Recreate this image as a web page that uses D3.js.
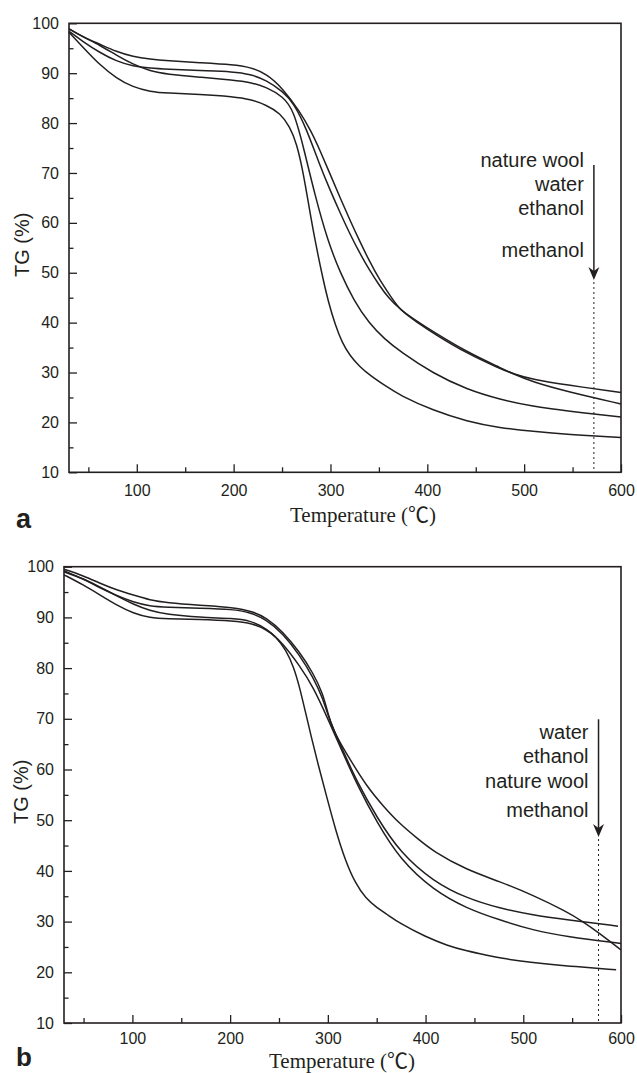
<!DOCTYPE html>
<html><head><meta charset="utf-8">
<script src="https://cdn.jsdelivr.net/npm/d3@7/dist/d3.min.js"></script>
<style>body{margin:0;background:#fff}</style>
</head><body>
<svg id="c" width="637" height="1073"></svg>
<script>
// ---------- data ----------
const xDomain = [30, 600];
const yDomain = [10, 100];
const xTicks = [100, 200, 300, 400, 500, 600];
const xMinor = [50, 150, 250, 350, 450, 550];
const yTicks = [10, 20, 30, 40, 50, 60, 70, 80, 90, 100];
const yMinor = [15, 25, 35, 45, 55, 65, 75, 85, 95];
const xTitle = "Temperature (℃)";
const yTitle = "TG (%)";

// panel a  (temperature °C, TG %)
const aNatureWool = [[30,98.9],[44,97.3],[62,95.8],[79,94.3],[96,93.3],[114,92.8],[131,92.5],[165,92.1],[200,91.7],[217,91.2],[234,89.9],[251,86.9],[268,82.4],[280,78.4],[289,74.6],[300,69.6],[310,65.0],[320,60.6],[330,56.4],[340,52.4],[350,48.8],[363,45.0],[372,42.5],[390,40.0],[406,37.9],[441,33.8],[475,30.8],[489,29.7],[509,28.6],[544,27.5],[600,26.0]];
const aWater = [[30,98.4],[44,96.4],[62,94.1],[79,92.4],[96,91.4],[114,91.0],[131,90.8],[165,90.5],[200,90.3],[217,89.8],[234,88.6],[251,86.3],[262,84.0],[275,79.0],[289,71.5],[300,66.4],[310,62.0],[320,57.8],[330,54.0],[340,50.6],[350,47.6],[360,44.9],[372,42.6],[390,40.2],[406,38.2],[441,34.1],[475,31.0],[489,29.7],[509,28.1],[544,26.2],[600,23.7]];
const aEthanol = [[30,98.9],[44,97.3],[62,95.6],[79,93.6],[96,91.8],[114,90.4],[131,89.8],[165,89.2],[200,88.6],[217,88.2],[234,87.2],[251,85.3],[262,82.6],[273,74.5],[284,65.5],[297,56.5],[310,50.0],[324,44.5],[340,39.8],[356,36.7],[372,34.2],[406,29.8],[441,26.6],[475,24.6],[509,23.2],[544,22.3],[600,21.1]];
const aMethanol = [[30,98.2],[44,95.3],[62,91.6],[79,89.0],[96,87.2],[114,86.3],[131,86.0],[165,85.8],[200,85.3],[217,84.8],[234,83.6],[248,82.0],[258,79.3],[265,76.0],[272,70.0],[278,63.0],[285,55.5],[292,49.0],[298,44.0],[305,39.5],[312,36.0],[320,33.4],[330,31.2],[341,29.4],[356,27.4],[372,25.4],[406,22.4],[441,20.2],[475,18.9],[509,18.2],[545,17.6],[600,17.0]];

// panel b
const bWater = [[30,99.5],[50,98.2],[67,96.7],[84,95.4],[101,94.4],[118,93.4],[135,92.9],[169,92.4],[203,92.0],[224,91.1],[237,89.9],[254,87.2],[271,83.2],[285,79.0],[295,75.0],[300,71.0],[306,67.6],[315,64.5],[323,61.9],[340,56.6],[357,52.7],[374,49.2],[391,46.5],[408,43.8],[442,40.2],[476,37.9],[510,35.2],[544,32.0],[561,30.0],[578,27.7],[600,24.4]];
const bEthanol = [[30,99.2],[50,97.6],[67,95.8],[84,94.3],[101,93.0],[118,92.2],[135,92.0],[169,91.8],[203,91.6],[220,91.0],[237,89.6],[254,86.8],[271,82.6],[285,78.2],[295,74.0],[301,70.0],[316,63.5],[330,57.5],[350,50.6],[374,43.6],[408,37.9],[442,34.6],[476,32.6],[510,31.3],[544,30.4],[597,29.1]];
const bNatureWool = [[30,99.0],[50,97.6],[67,96.0],[84,94.2],[101,92.6],[118,91.3],[135,90.6],[169,90.0],[203,89.8],[220,89.4],[237,87.9],[254,84.9],[271,80.5],[285,76.3],[300,70.0],[316,63.0],[330,57.0],[350,49.6],[374,42.2],[408,36.2],[442,32.6],[476,30.3],[510,28.3],[544,27.0],[600,25.7]];
const bMethanol = [[30,98.4],[50,96.4],[67,94.4],[84,92.4],[101,90.8],[118,89.9],[135,89.7],[169,89.6],[203,89.3],[223,88.8],[237,87.6],[247,86.2],[257,83.6],[265,80.3],[271,76.3],[277,71.4],[283,66.5],[290,61.0],[299,54.5],[308,48.0],[318,42.0],[328,37.6],[339,34.5],[350,32.8],[360,31.5],[374,29.6],[400,27.0],[422,25.3],[442,24.2],[464,23.3],[476,22.8],[506,22.0],[547,21.2],[595,20.5]];

const legendA = ["nature wool", "water", "ethanol", "methanol"];
const legendB = ["water", "ethanol", "nature wool", "methanol"];
const arrowTA = 572, arrowTB = 577;

// ---------- drawing ----------
const ink = "#231f20";
const svg = d3.select("#c");

const panels = [
  {label:"a", left:69, right:621, top:23.3, bottom:472.3, series:[aNatureWool,aWater,aEthanol,aMethanol],
   legend:legendA, arrowT:arrowTA, arrowTop:165, arrowTip:280, legendOffsets:[1.7,26,50,92.3],
   titleX:363, titleY:522, yTitleX:22, labelY:528, labelSize:27, pad:12},
  {label:"b", left:64, right:621, top:566.7, bottom:1023, series:[bWater,bEthanol,bNatureWool,bMethanol],
   legend:legendB, arrowT:arrowTB, arrowTop:719.3, arrowTip:837, legendOffsets:[19.7,44,69,98],
   titleX:342, titleY:1067.5, yTitleX:21, labelY:1066, labelSize:26, pad:10}
];

panels.forEach(p => {
  const x = d3.scaleLinear().domain(xDomain).range([p.left, p.right]);
  const y = d3.scaleLinear().domain(yDomain).range([p.bottom, p.top]);
  const g = svg.append("g");

  // minor ticks
  g.append("g").attr("transform",`translate(0,${p.bottom})`)
    .call(d3.axisBottom(x).tickValues(xMinor).tickSize(-5).tickFormat(""))
    .call(s=>{s.select(".domain").remove(); s.selectAll("line").attr("stroke",ink).attr("stroke-width",1.3);});
  g.append("g").attr("transform",`translate(${p.left},0)`)
    .call(d3.axisLeft(y).tickValues(yMinor).tickSize(-4.5).tickFormat(""))
    .call(s=>{s.select(".domain").remove(); s.selectAll("line").attr("stroke",ink).attr("stroke-width",1.3);});

  // major ticks
  g.append("g").attr("transform",`translate(0,${p.bottom})`)
    .call(d3.axisBottom(x).tickValues(xTicks).tickSize(-8).tickPadding(p.pad))
    .call(s=>{s.select(".domain").remove(); s.selectAll("line").attr("stroke",ink).attr("stroke-width",1.3);
      s.selectAll("text").attr("fill",ink).style("font-family","'Liberation Sans', Arial, sans-serif").style("font-size","16px");});
  g.append("g").attr("transform",`translate(${p.left},0)`)
    .call(d3.axisLeft(y).tickValues(yTicks).tickSize(-8).tickPadding(10))
    .call(s=>{s.select(".domain").remove(); s.selectAll("line").attr("stroke",ink).attr("stroke-width",1.3);
      s.selectAll("text").attr("fill",ink).style("font-family","'Liberation Sans', Arial, sans-serif").style("font-size","16px");});

  // frame
  g.append("rect").attr("x",p.left).attr("y",p.top).attr("width",p.right-p.left).attr("height",p.bottom-p.top)
    .attr("fill","none").attr("stroke",ink).attr("stroke-width",1.6);

  // curves
  const line = d3.line().x(d=>x(d[0])).y(d=>y(d[1])).curve(d3.curveBasis);
  p.series.forEach(s => {
    g.append("path").datum(s).attr("d",line).attr("fill","none").attr("stroke",ink).attr("stroke-width",1.5);
  });

  // arrow + dotted line
  const ax = x(p.arrowT);
  g.append("line").attr("x1",ax).attr("x2",ax).attr("y1",p.arrowTop).attr("y2",p.arrowTip-6)
    .attr("stroke",ink).attr("stroke-width",1.5);
  g.append("path").attr("d",`M${ax},${p.arrowTip} L${ax-5.5},${p.arrowTip-13} L${ax},${p.arrowTip-9} L${ax+5.5},${p.arrowTip-13} Z`)
    .attr("fill",ink);
  g.append("line").attr("x1",ax).attr("x2",ax).attr("y1",p.arrowTip+2).attr("y2",p.bottom)
    .attr("stroke",ink).attr("stroke-width",1).attr("stroke-dasharray","2,3");

  // legend texts
  p.legend.forEach((t,i) => {
    g.append("text").attr("x",ax-10).attr("y",p.arrowTop+p.legendOffsets[i]).attr("text-anchor","end")
      .attr("fill",ink).style("font-family","'Liberation Sans', Arial, sans-serif").style("font-size","20px").text(t);
  });

  // axis titles
  g.append("text").attr("x",p.titleX).attr("y",p.titleY).attr("text-anchor","middle").attr("fill",ink)
    .style("font-family","'Liberation Serif','Times New Roman','Noto Sans CJK SC',serif").style("font-size","21px").text(xTitle);
  const yc = (p.top+p.bottom)/2 - 3;
  g.append("text").attr("transform",`translate(${p.yTitleX},${yc}) rotate(-90)`).attr("text-anchor","middle")
    .attr("dominant-baseline","central").attr("fill",ink)
    .style("font-family","'Liberation Sans', Arial, sans-serif").style("font-size","20px").text(yTitle);

  // panel label
  g.append("text").attr("x",16).attr("y",p.labelY).attr("fill",ink)
    .style("font-family","'Liberation Sans', Arial, sans-serif").style("font-weight","bold").style("font-size",p.labelSize+"px").text(p.label);
});
</script>
</body></html>
